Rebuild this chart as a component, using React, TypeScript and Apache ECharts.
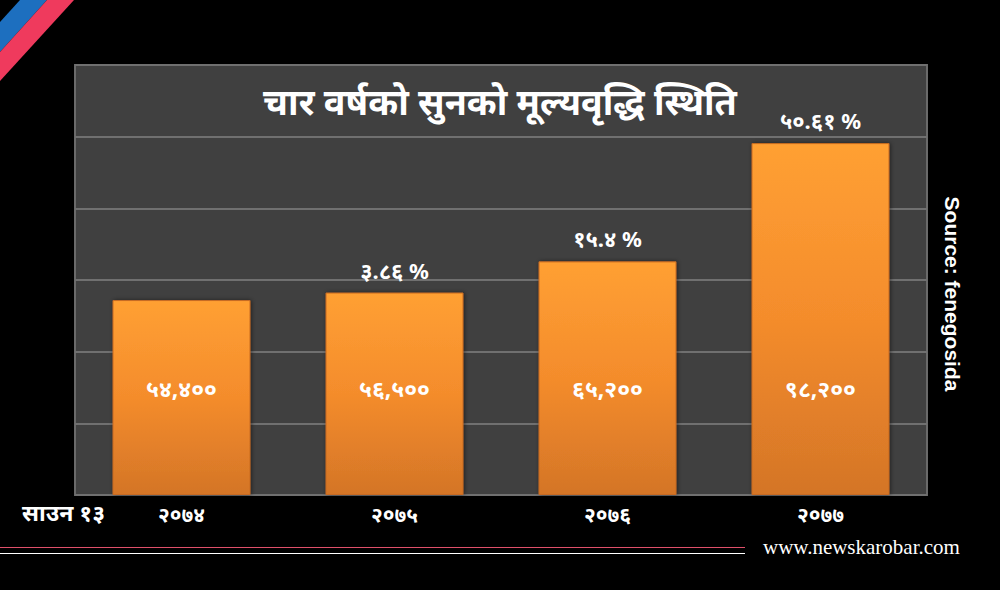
import React, { useEffect, useRef } from "react";
import * as echarts from "echarts";

const categories = ["२०७४", "२०७५", "२०७६", "२०७७"];
const prices = [54400, 56500, 65200, 98200];
const priceLabels = ["५४,४००", "५६,५००", "६५,२००", "९८,२००"];
const growthLabels = ["", "३.८६ %", "१५.४ %", "५०.६१ %"];
const titleText = "चार वर्षको सुनको मूल्यवृद्धि स्थिति";
const dateLabel = "साउन १३";
const sourceText = "Source: fenegosida";
const siteText = "www.newskarobar.com";

const FONT = "'Noto Sans', 'DejaVu Sans', 'Liberation Sans', sans-serif";

export default function App() {
  const ref = useRef<HTMLDivElement>(null);
  useEffect(() => {
    if (!ref.current) return;
    const chart = echarts.init(ref.current, null, { renderer: "svg" });
    chart.setOption({
      animation: false,
      backgroundColor: "#000000",
      title: {
        text: titleText,
        left: "center",
        top: 78,
        textStyle: { color: "#ffffff", fontSize: 36, fontWeight: "bold", fontFamily: FONT },
      },
      grid: {
        left: 75,
        top: 65,
        width: 852,
        height: 430,
        show: true,
        backgroundColor: "#404040",
        borderColor: "#6a6a6a",
        borderWidth: 2,
      },
      xAxis: {
        type: "category",
        data: categories,
        axisLine: { show: false },
        axisTick: { show: false },
        axisLabel: {
          color: "#ffffff",
          fontSize: 21,
          fontWeight: "bold",
          fontFamily: FONT,
          margin: 8,
        },
      },
      yAxis: {
        type: "value",
        min: 0,
        max: 120000,
        interval: 20000,
        axisLabel: { show: false },
        axisLine: { show: false },
        axisTick: { show: false },
        splitLine: { lineStyle: { color: "#707070", width: 2 } },
      },
      series: [
        {
          type: "bar",
          data: prices,
          barWidth: 138,
          itemStyle: {
            color: new echarts.graphic.LinearGradient(0, 0, 0, 1, [
              { offset: 0, color: "#ffa033" },
              { offset: 0.5, color: "#f48c2c" },
              { offset: 1, color: "#d47527" },
            ]),
            borderColor: "#c86a20",
            borderWidth: 1,
            shadowColor: "rgba(0,0,0,0.5)",
            shadowBlur: 4,
            shadowOffsetX: 1,
          },
          label: {
            show: true,
            position: "insideBottom",
            distance: 96,
            color: "#ffffff",
            fontSize: 23,
            fontWeight: "bold",
            fontFamily: FONT,
            formatter: (p: any) => priceLabels[p.dataIndex],
          },
        },
        {
          type: "bar",
          data: prices,
          barWidth: 138,
          barGap: "-100%",
          itemStyle: { color: "rgba(0,0,0,0)" },
          silent: true,
          label: {
            show: true,
            position: "top",
            distance: 12,
            color: "#ffffff",
            fontSize: 22,
            fontWeight: "bold",
            fontFamily: FONT,
            formatter: (p: any) => growthLabels[p.dataIndex],
          },
        },
      ],
      graphic: [
        {
          type: "polygon",
          shape: { points: [[20, 0], [47, 0], [0, 52], [0, 22]] },
          style: { fill: "#1d6fbf" },
        },
        {
          type: "polygon",
          shape: { points: [[47, 0], [74, 0], [0, 81], [0, 52]] },
          style: { fill: "#ef3a5d" },
        },
        {
          type: "text",
          left: 22,
          top: 500,
          style: {
            text: dateLabel,
            fill: "#ffffff",
            font: `bold 23px ${FONT}`,
          },
        },
        {
          type: "line",
          shape: { x1: 0, y1: 547.5, x2: 745, y2: 547.5 },
          style: { stroke: "#e0506a", lineWidth: 1 },
        },
        {
          type: "line",
          shape: { x1: 0, y1: 553.5, x2: 745, y2: 553.5 },
          style: { stroke: "#ffffff", lineWidth: 1 },
        },
        {
          type: "text",
          left: 763,
          top: 536,
          style: {
            text: siteText,
            fill: "#ffffff",
            font: "21px 'Liberation Serif', 'DejaVu Serif', serif",
          },
        },
        {
          type: "text",
          x: 952,
          y: 294,
          rotation: -Math.PI / 2,
          style: {
            text: sourceText,
            fill: "#ffffff",
            font: "bold 21px 'Liberation Sans', Arial, sans-serif",
            align: "center",
            verticalAlign: "middle",
          },
        },
      ],
    });
    return () => chart.dispose();
  }, []);
  return <div ref={ref} style={{ width: 1000, height: 590, position: "absolute", left: 0, top: 0 }} />;
}
